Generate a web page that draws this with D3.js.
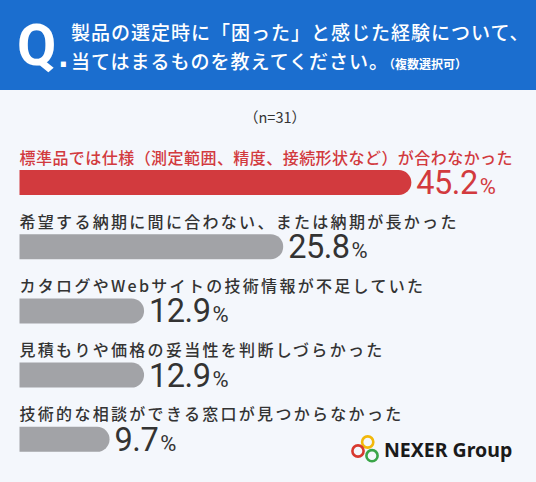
<!DOCTYPE html>
<html lang="ja">
<head>
<meta charset="UTF-8">
<title>製品の選定時に困った経験</title>
<style>
  html, body { margin: 0; padding: 0; background: #f4f7fc; }
  svg { display: block; }
  text { font-family: "Noto Sans CJK JP", "Noto Sans", sans-serif; }
</style>
</head>
<body>
<svg id="chart"></svg>
<script src="https://d3js.org/d3.v7.min.js"></script>
<script>
// data
const titleLines = ['製品の選定時に「困った」と感じた経験について、', '当てはまるものを教えてください。'];
const titleNote = '（複数選択可）';
const sampleNote = '（n=31）';
const labels = [
  '標準品では仕様（測定範囲、精度、接続形状など）が合わなかった',
  '希望する納期に間に合わない、または納期が長かった',
  'カタログやWebサイトの技術情報が不足していた',
  '見積もりや価格の妥当性を判断しづらかった',
  '技術的な相談ができる窓口が見つからなかった'
];
const values = [45.2, 25.8, 12.9, 12.9, 9.7];

const width = 536, height = 482;
const left = 19.5;
const barH = 25;
const red = '#d23a3e', gray = '#a2a3a7', ink = '#333333';

const svg = d3.select('#chart').attr('width', width).attr('height', height);

svg.append('rect').attr('width', width).attr('height', height).attr('fill', '#f4f7fc');

// header band
svg.append('rect').attr('width', width).attr('height', 90).attr('fill', '#1b6ecf');
svg.append('text')
  .attr('x', 17).attr('y', 65)
  .attr('fill', '#fff')
  .style('font-family', 'Roboto, sans-serif')
  .style('font-weight', 700)
  .style('font-size', '57px')
  .text('Q');
svg.append('text')
  .attr('x', 58).attr('y', 67)
  .attr('fill', '#fff')
  .style('font-family', '"DejaVu Sans", sans-serif')
  .style('font-weight', 700)
  .style('font-size', '28px')
  .text('.');

const title = svg.append('g').attr('fill', '#fff')
  .style('font-size', '19px').style('font-weight', 500).style('letter-spacing', '1px');
title.append('text').attr('x', 71).attr('y', 40).text(titleLines[0]);
const t2 = title.append('text').attr('x', 71).attr('y', 69);
t2.append('tspan').text(titleLines[1]);
t2.append('tspan').style('font-size', '12px').style('font-weight', 700).style('letter-spacing', '0px').text(titleNote);

svg.append('text')
  .attr('x', 275).attr('y', 123)
  .attr('text-anchor', 'middle')
  .attr('fill', ink)
  .style('font-size', '14.5px')
  .text(sampleNote);

// scales: the long top bar is shortened in the original, so the scale bends above 30%
const x = d3.scaleLinear().domain([1.35, 30, 50]).range([0, 309, 418]);
const row = d3.scaleBand().domain(labels).range([145, 145 + 5 * 64.2]);

const rows = svg.selectAll('.row')
  .data(labels.map((label, i) => ({ label, value: values[i], top: i === 0 })))
  .enter().append('g')
  .attr('class', 'row')
  .attr('transform', d => `translate(0,${row(d.label)})`);

rows.append('text')
  .attr('x', left).attr('y', 18.5)
  .attr('fill', d => d.top ? red : ink)
  .style('font-size', '16px')
  .style('font-weight', 500)
  .style('letter-spacing', d => d.top ? '0.45px' : '2.3px')
  .text(d => d.label);

function barPath(w) {
  const r = barH / 2, y0 = 25;
  return `M${left},${y0}H${left + w - r}A${r},${r} 0 0 1 ${left + w - r},${y0 + barH}H${left}Z`;
}

rows.append('path')
  .attr('d', d => barPath(x(d.value)))
  .attr('fill', d => d.top ? red : gray);

const val = rows.append('text')
  .attr('x', d => left + x(d.value) + 5)
  .attr('y', 25 + 24)
  .attr('fill', d => d.top ? red : ink)
  .style('font-family', 'Roboto, sans-serif')
  .style('font-size', '32.5px')
  .style('letter-spacing', '-0.5px');
val.append('tspan').text(d => d.value.toFixed(1));
val.append('tspan').attr('dx', 2).style('font-size', '22px').text('%');

// logo
const logo = svg.append('g');
const rings = [
  { cx: 367.7, cy: 442, c: '#f2b80a' },
  { cx: 358, cy: 451, c: '#d8392f' },
  { cx: 372, cy: 455.7, c: '#3aa548' }
];
logo.selectAll('circle').data(rings).enter().append('circle')
  .attr('cx', d => d.cx).attr('cy', d => d.cy).attr('r', 5.6)
  .attr('fill', 'none').attr('stroke', d => d.c).attr('stroke-width', 2.6);
logo.append('text')
  .attr('x', 384).attr('y', 456.5)
  .attr('fill', '#1a1a1a')
  .style('font-family', '"Noto Sans", sans-serif')
  .style('font-weight', 700)
  .style('font-size', '19.5px')
  .text('NEXER Group');
</script>
</body>
</html>
